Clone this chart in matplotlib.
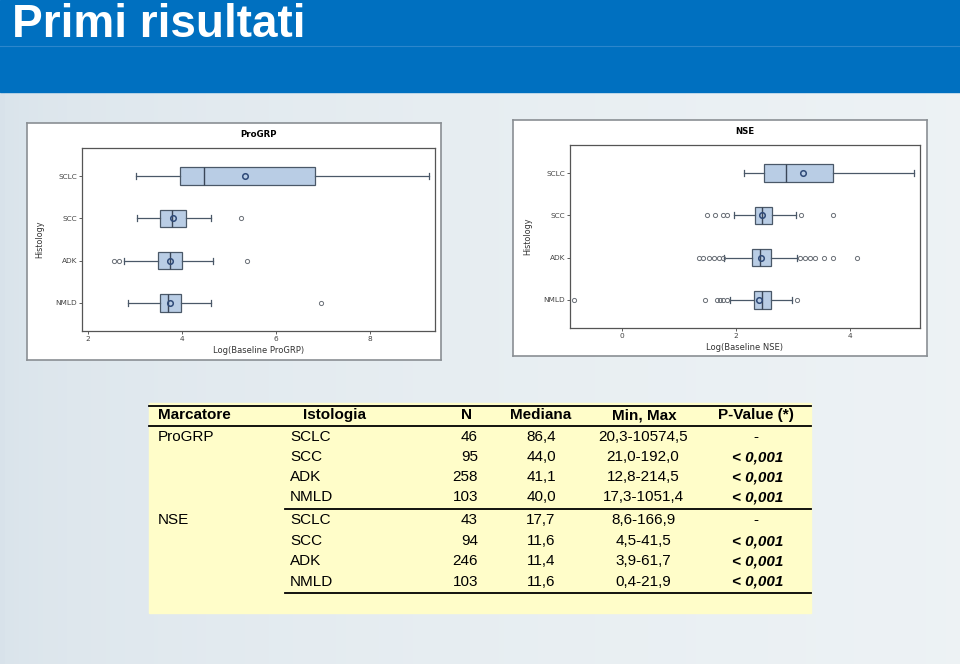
import matplotlib.pyplot as plt
import numpy as np

# Box plot data (log scale values)
categories = ['SCLC', 'SCC', 'ADK', 'NMLD']

progrp_whislo = [3.01, 3.03, 2.77, 2.85]
progrp_q1 = [3.95, 3.54, 3.49, 3.52]
progrp_med = [4.46, 3.79, 3.74, 3.69]
progrp_mean = [5.33, 3.81, 3.74, 3.74]
progrp_q3 = [6.82, 4.08, 3.99, 3.97]
progrp_whishi = [9.26, 4.62, 4.66, 4.62]
progrp_fliers = [[], [5.25], [2.55, 2.65, 5.37], [6.95]]

nse_whislo = [2.15, 1.97, 1.80, 1.89]
nse_q1 = [2.49, 2.34, 2.28, 2.32]
nse_med = [2.88, 2.46, 2.43, 2.46]
nse_mean = [3.17, 2.46, 2.44, 2.40]
nse_q3 = [3.70, 2.63, 2.62, 2.62]
nse_whishi = [5.12, 3.05, 3.07, 2.98]
nse_fliers = [[],
              [1.49, 1.64, 1.77, 1.84, 3.15, 3.71],
              [1.35, 1.43, 1.52, 1.61, 1.70, 1.77, 3.13, 3.22, 3.30, 3.39, 3.54, 3.70, 4.12],
              [-0.84, 1.45, 1.67, 1.73, 1.78, 1.84, 3.08]]

# Table data
tab_header = ['Marcatore', 'Istologia', 'N', 'Mediana', 'Min, Max', 'P-Value (*)']
tab_marker = ['ProGRP', '', '', '', 'NSE', '', '', '']
tab_hist = ['SCLC', 'SCC', 'ADK', 'NMLD', 'SCLC', 'SCC', 'ADK', 'NMLD']
tab_n = [46, 95, 258, 103, 43, 94, 246, 103]
tab_median = ['86,4', '44,0', '41,1', '40,0', '17,7', '11,6', '11,4', '11,6']
tab_minmax = ['20,3-10574,5', '21,0-192,0', '12,8-214,5', '17,3-1051,4',
              '8,6-166,9', '4,5-41,5', '3,9-61,7', '0,4-21,9']
tab_pval = ['-', '< 0,001', '< 0,001', '< 0,001', '-', '< 0,001', '< 0,001', '< 0,001']

W, H = 960, 664
fig = plt.figure(figsize=(W / 100, H / 100), dpi=100)


def rect(x0, y0, x1, y1):
    return [x0 / W, 1 - y1 / H, (x1 - x0) / W, (y1 - y0) / H]


# slide background + header + table in a pixel-space overlay
bg = fig.add_axes([0, 0, 1, 1])
bg.set_xlim(0, W)
bg.set_ylim(H, 0)
bg.axis('off')
grad = np.linspace(0, 1, 200)
base = np.array([0.85, 0.89, 0.92])
light = np.array([0.93, 0.95, 0.96])
img = base + (light - base) * np.sqrt(grad)[:, None]
bg.imshow(img[None, :, :], extent=[0, W, H, 92], aspect='auto', zorder=0)
bg.add_patch(plt.Rectangle((0, 0), W, 92, color='#0070C0', zorder=1))
bg.plot([0, W], [46, 46], color='#2C86CC', lw=0.8, zorder=2)
bg.text(12, 37, 'Primi risultati', color='white', fontsize=33, fontweight='bold',
        family=['Liberation Sans', 'DejaVu Sans'], va='baseline', ha='left', zorder=3)

# table
bg.add_patch(plt.Rectangle((149, 403), 662, 210, color='#FFFDC9', zorder=1))
bg.plot([149, 811], [406, 406], color='black', lw=1.3, zorder=2)
bg.plot([149, 811], [426, 426], color='black', lw=1.3, zorder=2)
bg.plot([285, 811], [509, 509], color='black', lw=1.3, zorder=2)
bg.plot([285, 811], [593, 593], color='black', lw=1.3, zorder=2)

fam = ['Liberation Sans', 'DejaVu Sans']
fs = 11
hdr_x = [158, 303, 466, 541, 644, 756]
hdr_ha = ['left', 'left', 'center', 'center', 'center', 'center']
for txt, x, ha in zip(tab_header, hdr_x, hdr_ha):
    bg.text(x, 415, txt, fontsize=fs, fontweight='bold', family=fam, ha=ha, va='center', zorder=3)

row_y = [437, 457, 477, 497, 520, 541, 561, 582]
for i, y in enumerate(row_y):
    bg.text(158, y, tab_marker[i], fontsize=fs, family=fam, ha='left', va='center', zorder=3)
    bg.text(290, y, tab_hist[i], fontsize=fs, family=fam, ha='left', va='center', zorder=3)
    bg.text(478, y, str(tab_n[i]), fontsize=fs, family=fam, ha='right', va='center', zorder=3)
    bg.text(541, y, tab_median[i], fontsize=fs, family=fam, ha='center', va='center', zorder=3)
    bg.text(643, y, tab_minmax[i], fontsize=fs, family=fam, ha='center', va='center', zorder=3)
    if tab_pval[i] == '-':
        bg.text(756, y, '-', fontsize=fs, family=fam, ha='center', va='center', zorder=3)
    else:
        bg.text(758, y, tab_pval[i], fontsize=fs, family=fam, fontweight='bold',
                style='italic', ha='center', va='center', zorder=3)


def box_panel(frame, inner, title, xlabel, whislo, q1, med, mean, q3, whishi, fliers,
              xlim, xticks):
    fr = fig.add_axes(rect(*frame))
    fr.set_xticks([])
    fr.set_yticks([])
    fr.set_facecolor('white')
    for s in fr.spines.values():
        s.set_color('#8A8F94')
        s.set_linewidth(1.2)

    ax = fig.add_axes(rect(*inner))
    stats = []
    for i, lab in enumerate(categories):
        stats.append(dict(label=lab, whislo=whislo[i], q1=q1[i], med=med[i], mean=mean[i],
                          q3=q3[i], whishi=whishi[i], fliers=fliers[i]))
    ax.bxp(stats, positions=[1, 2, 3, 4], widths=0.42, orientation='horizontal',
           showmeans=True, patch_artist=True, capwidths=0.14,
           boxprops=dict(facecolor='#B9CDE5', edgecolor='#4A5868', linewidth=0.9),
           medianprops=dict(color='#3A4658', linewidth=1.0),
           whiskerprops=dict(color='#4A5868', linewidth=0.9),
           capprops=dict(color='#4A5868', linewidth=0.9),
           meanprops=dict(marker='o', markerfacecolor='none', markeredgecolor='#2F4A78',
                          markersize=4, markeredgewidth=1.1),
           flierprops=dict(marker='o', markerfacecolor='none', markeredgecolor='#6B7078',
                           markersize=3, markeredgewidth=0.7))
    ax.set_ylim(4.67, 0.33)
    ax.set_xlim(*xlim)
    ax.set_xticks(xticks)
    ax.tick_params(labelsize=5.3, length=2, width=0.6, colors='#444444', pad=1.5)
    for s in ax.spines.values():
        s.set_color('#555555')
        s.set_linewidth(0.9)
    ax.set_title(title, fontsize=6.2, fontweight='bold', pad=8)
    ax.set_xlabel(xlabel, fontsize=6, color='#333333', labelpad=3)
    ax.set_ylabel('Histology', fontsize=5.8, color='#333333', labelpad=8)
    return ax


box_panel((27, 123, 441, 360), (82, 148, 435, 331), 'ProGRP', 'Log(Baseline ProGRP)',
          progrp_whislo, progrp_q1, progrp_med, progrp_mean, progrp_q3, progrp_whishi,
          progrp_fliers, (1.87, 9.38), [2, 4, 6, 8])

box_panel((513, 120, 927, 356), (570, 145, 920, 328), 'NSE', 'Log(Baseline NSE)',
          nse_whislo, nse_q1, nse_med, nse_mean, nse_q3, nse_whishi,
          nse_fliers, (-0.91, 5.23), [0, 2, 4])

fig.savefig('out.png', dpi=100)
